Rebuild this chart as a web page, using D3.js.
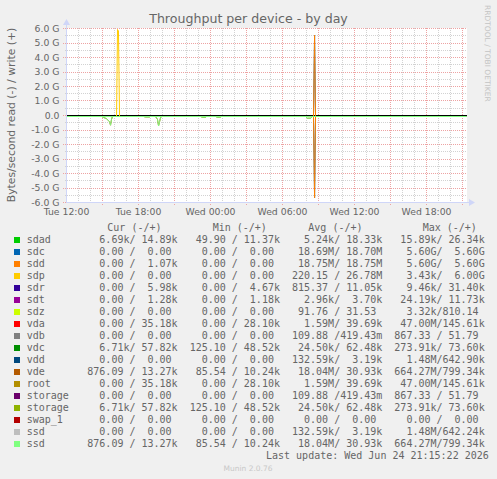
<!DOCTYPE html>
<html>
<head>
<meta charset="utf-8">
<script src="https://cdn.jsdelivr.net/npm/d3@7"></script>
<style>
  body { margin: 0; background: #F0F0F0; }
  svg { display: block; font-family: "DejaVu Sans", sans-serif; }
  .mono { font-family: "DejaVu Sans Mono", monospace; font-size: 10px; fill: #666; white-space: pre; }
</style>
</head>
<body>
<div id="chart"></div>
<script>
// ---- data ----
const fieldLabels = ["sdad", "sdc", "sdd", "sdp", "sdr", "sdt", "sdz", "vda", "vdb", "vdc",
  "vdd", "vde", "root", "storage", "storage", "swap_1", "ssd", "ssd"];
const fieldColors = ["#00CC00", "#0066B3", "#FF8000", "#FFCC00", "#330099", "#990099", "#CCFF00",
  "#FF0000", "#808080", "#008F00", "#00487D", "#B35A00", "#B38F00", "#6B006B", "#8FB300",
  "#B30000", "#BEBEBE", "#80FF80"];

const curRead  = [6690, 0, 0, 0, 0, 0, 0, 0, 0, 6710, 0, 876.09, 0, 0, 6710, 0, 0, 876.09];
const curWrite = [14890, 0, 1070, 0, 5980, 1280, 0, 35180, 0, 57820, 0, 13270, 35180, 0, 57820, 0, 0, 13270];
const minRead  = [49.90, 0, 0, 0, 0, 0, 0, 0, 0, 125.10, 0, 85.54, 0, 0, 125.10, 0, 0, 85.54];
const minWrite = [11370, 0, 0, 0, 4670, 1180, 0, 28100, 0, 48520, 0, 10240, 28100, 0, 48520, 0, 0, 10240];
const avgRead  = [5240, 18.69e6, 18.75e6, 220.15, 815.37, 2960, 91.76, 1.59e6, 109.88, 24500,
  132590, 18.04e6, 1.59e6, 109.88, 24500, 0, 132590, 18.04e6];
const avgWrite = [18330, 18.70e6, 18.75e6, 26.78e6, 11050, 3700, 31.53, 39690, 0.41943, 62480,
  3190, 30930, 39690, 0.41943, 62480, 0, 3190, 30930];
const maxRead  = [15890, 5.60e9, 5.60e9, 3430, 9460, 24190, 3320, 47.00e6, 867.33, 273910,
  1.48e6, 664.27e6, 47.00e6, 867.33, 273910, 0, 1.48e6, 664.27e6];
const maxWrite = [26340, 5.60e9, 5.60e9, 6.00e9, 31400, 11730, 810.14, 145610, 51.79, 73600,
  642900, 799340, 145610, 51.79, 73600, 0, 642240, 799340];

// samples: [hours since Tue 12:00, GB/s]
const spanHours = 33.33;
const flatSeries = [[0, 0], [33.33, 0]];
const sdcdRead  = [[0, 0], [20.58, 0], [20.67, -5.60], [20.75, 0], [33.33, 0]];
const sdcdWrite = [[0, 0], [20.58, 0], [20.67, 5.60], [20.75, 0], [33.33, 0]];
const sdpWrite  = [[0, 0], [4.17, 0], [4.25, 6.0], [4.33, 5.9], [4.42, 0], [33.33, 0]];
const vdeRead   = [[0, 0], [2.92, 0], [3.33, -0.15], [3.58, -0.35], [3.67, -0.6], [3.75, -0.2], [3.83, 0],
  [6.42, 0], [6.58, -0.03], [6.92, -0.03], [7.0, 0],
  [7.42, 0], [7.58, -0.2], [7.67, -0.65], [7.83, -0.1], [7.92, 0],
  [11.17, 0], [11.33, -0.05], [11.58, -0.05], [11.67, 0],
  [12.42, 0], [12.58, -0.05], [12.83, -0.04], [12.92, 0],
  [19.92, 0], [20.08, -0.12], [20.33, -0.12], [20.5, 0], [33.33, 0]];

const readSeries  = { 1: sdcdRead, 2: sdcdRead, 11: vdeRead, 17: vdeRead };
const writeSeries = { 1: sdcdWrite, 2: sdcdWrite, 3: sdpWrite };

const yTicks = [6, 5, 4, 3, 2, 1, 0, -1, -2, -3, -4, -5, -6];
const xTickLabels = ["Tue 12:00", "Tue 18:00", "Wed 00:00", "Wed 06:00", "Wed 12:00", "Wed 18:00"];
const legendHeaders = ["Cur (-/+)", "Min (-/+)", "Avg (-/+)", "Max (-/+)"];
const lastUpdate = "Last update: Wed Jun 24 21:15:22 2026";

// ---- layout ----
const width = 497, height = 479;
const plot = { left: 66, right: 466, top: 28, bottom: 203 };

const svg = d3.select("#chart").append("svg")
  .attr("width", width).attr("height", height);

svg.append("rect").attr("width", width).attr("height", height).attr("fill", "#F0F0F0");

const xScale = d3.scaleLinear().domain([0, spanHours]).range([plot.left + 0.5, plot.right + 0.5]);
const yScale = d3.scaleLinear().domain([-6, 6]).range([202.5, 28.5]);
const crisp = v => Math.round(v - 0.5) + 0.5;

// canvas
svg.append("rect")
  .attr("x", plot.left).attr("y", plot.top)
  .attr("width", plot.right - plot.left + 1).attr("height", plot.bottom - plot.top)
  .attr("fill", "#FFFFFF");

// grid
const grid = svg.append("g").attr("stroke-dasharray", "1,1").attr("stroke-width", 1);
d3.range(-6, 6.01, 0.5).forEach(v => {
  const major = Math.abs(v % 1) < 1e-9;
  grid.append("line")
    .attr("x1", plot.left - (major ? 3 : 1)).attr("x2", plot.right + 1)
    .attr("y1", crisp(yScale(v))).attr("y2", crisp(yScale(v)))
    .attr("stroke", major ? "#EDA3A3" : "#D2D2D2");
});
d3.range(1, 34).forEach(h => {
  const major = h % 3 === 0;
  grid.append("line")
    .attr("x1", crisp(xScale(h))).attr("x2", crisp(xScale(h)))
    .attr("y1", plot.top).attr("y2", plot.bottom + (major ? 3 : 1))
    .attr("stroke", major ? "#EDA3A3" : "#D2D2D2");
});

// zero rule
svg.append("line")
  .attr("x1", plot.left).attr("x2", plot.right + 1)
  .attr("y1", yScale(0)).attr("y2", yScale(0))
  .attr("stroke", "#000").attr("stroke-width", 1);

// series lines (shifted one pixel like rrdtool's line rendering)
const lineGen = d3.line().x(d => xScale(d[0])).y(d => yScale(d[1]));
const lines = svg.append("g").attr("transform", "translate(0,1)")
  .attr("fill", "none").attr("stroke-width", 1);
fieldLabels.forEach((f, i) => {
  lines.append("path").attr("d", lineGen(readSeries[i] || flatSeries)).attr("stroke", fieldColors[i]);
  lines.append("path").attr("d", lineGen(writeSeries[i] || flatSeries)).attr("stroke", fieldColors[i]);
});

// axes
const axisColor = "#CFD6F8";
svg.append("line").attr("x1", 66.5).attr("x2", 66.5).attr("y1", plot.bottom).attr("y2", 22)
  .attr("stroke", axisColor);
svg.append("path").attr("d", "M63,25 L70,25 L66.5,19 Z").attr("fill", axisColor);
svg.append("line").attr("x1", plot.left).attr("x2", 472).attr("y1", 202.5).attr("y2", 202.5)
  .attr("stroke", axisColor);
svg.append("path").attr("d", "M469,199 L469,206 L475,202.5 Z").attr("fill", axisColor);

// tick labels
svg.append("g").selectAll("text").data(yTicks).join("text")
  .attr("x", 59.5).attr("y", d => yScale(d) + 3.4)
  .attr("text-anchor", "end").attr("font-size", "9.3px").attr("fill", "#666")
  .text(d => d === 0 ? "0.0" : d3.format(".1f")(d).replace("−", "-") + " G");

svg.append("g").selectAll("text").data(xTickLabels).join("text")
  .attr("x", (d, i) => xScale(i * 6)).attr("y", 215)
  .attr("text-anchor", "middle").attr("font-size", "9.3px").attr("fill", "#666")
  .text(d => d);

// titles
svg.append("text").attr("x", 248.5).attr("y", 23).attr("text-anchor", "middle")
  .attr("font-size", "12.6px").attr("fill", "#666").text("Throughput per device - by day");
svg.append("text").attr("transform", "translate(15,115) rotate(-90)").attr("text-anchor", "middle")
  .attr("font-size", "10.8px").attr("fill", "#666").text("Bytes/second read (-) / write (+)");
svg.append("text").attr("transform", "translate(485,5) rotate(90)")
  .attr("font-size", "7.5px").attr("fill", "#C4C4C4").text("RRDTOOL / TOBI OETIKER");

// legend
const si = (v) => {
  if (v === 0) return "  0.00 ";
  const units = { "-1": "m", "0": " ", "1": "k", "2": "M", "3": "G" };
  const e = Math.max(-1, Math.min(3, Math.floor(Math.log10(Math.abs(v)) / 3)));
  return (v / Math.pow(1000, e)).toFixed(2).padStart(6) + units[e];
};
const cell = (r, w) => si(r) + "/" + si(w);

const headerX = [107.3, 212.7, 308.3, 422.7];
svg.append("g").selectAll("text").data(legendHeaders).join("text")
  .attr("class", "mono").attr("x", (d, i) => headerX[i]).attr("y", 231.3).text(d => d);

const rows = svg.append("g").selectAll("g").data(fieldLabels).join("g")
  .attr("transform", (d, i) => `translate(0,${i * 12})`);
rows.append("rect").attr("x", 14).attr("y", 237).attr("width", 6).attr("height", 6)
  .attr("fill", (d, i) => fieldColors[i]);
rows.append("text").attr("class", "mono").attr("x", 26.7).attr("y", 243.3).text(d => d);
rows.append("text").attr("class", "mono").attr("x", 87.3).attr("y", 243.3)
  .text((d, i) => [cell(curRead[i], curWrite[i]), cell(minRead[i], minWrite[i]),
    cell(avgRead[i], avgWrite[i]), cell(maxRead[i], maxWrite[i])].join("  "));

svg.append("text").attr("class", "mono").attr("x", 266).attr("y", 458.6).text(lastUpdate);
svg.append("text").attr("x", 248).attr("y", 471).attr("text-anchor", "middle")
  .attr("font-size", "7.5px").attr("fill", "#C8C8C8").text("Munin 2.0.76");
</script>
</body>
</html>
